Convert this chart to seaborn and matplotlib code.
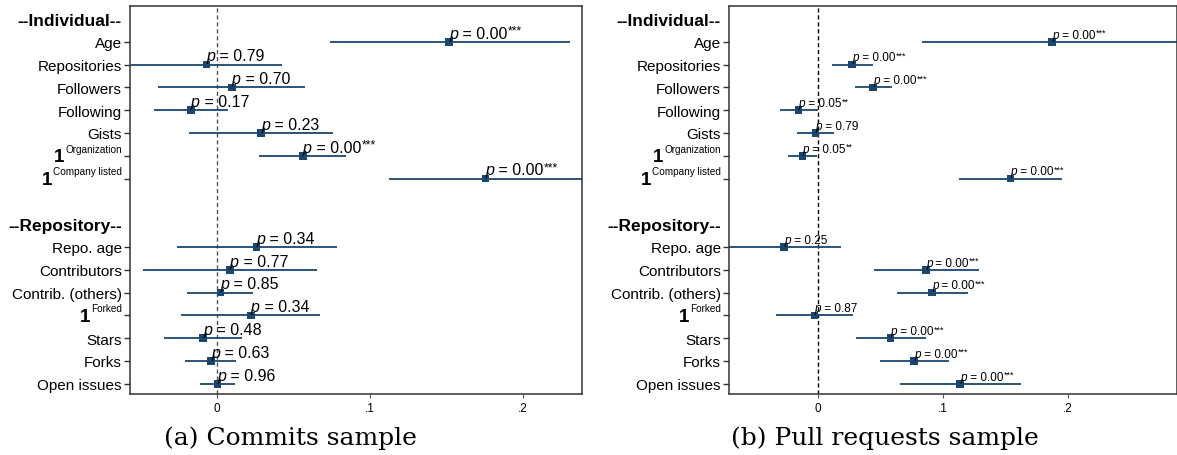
import pandas as pd
import matplotlib.pyplot as plt
import seaborn as sns

# rows of the coefficient plot (top to bottom), headers take their own rows
variables = ["Age", "Repositories", "Followers", "Following", "Gists",
             "Organization", "Company listed",
             "Repo. age", "Contributors", "Contrib. (others)", "Forked",
             "Stars", "Forks", "Open issues"]
positions = [1, 2, 3, 4, 5, 6, 7, 10, 11, 12, 13, 14, 15, 16]
headers = {0: "--Individual--", 9: "--Repository--"}
indicators = ["Organization", "Company listed", "Forked"]  # drawn as 1^{name}

# (a) commits sample
commits_coef = [0.1517, -0.0069, 0.0096, -0.0172, 0.0287, 0.0561, 0.1755,
                0.0257, 0.0083, 0.0022, 0.0221, -0.0091, -0.0039, 0.0002]
commits_lo = [0.0738, -0.0564, -0.0387, -0.0412, -0.0181, 0.0277, 0.1127,
              -0.0265, -0.0485, -0.0194, -0.0235, -0.0348, -0.0208, -0.0113]
commits_hi = [0.2306, 0.0426, 0.0578, 0.0071, 0.0755, 0.0843, 0.2383,
              0.0782, 0.0654, 0.0233, 0.0676, 0.0164, 0.0127, 0.0120]
commits_p = ["0.00***", "0.79", "0.70", "0.17", "0.23", "0.00***", "0.00***",
             "0.34", "0.77", "0.85", "0.34", "0.48", "0.63", "0.96"]

# (b) pull requests sample
pulls_coef = [0.1874, 0.0274, 0.0442, -0.0156, -0.0021, -0.0123, 0.1540,
              -0.0271, 0.0863, 0.0911, -0.0027, 0.0580, 0.0770, 0.1137]
pulls_lo = [0.0833, 0.0111, 0.0295, -0.0301, -0.0168, -0.0238, 0.1131,
            -0.0728, 0.0445, 0.0632, -0.0337, 0.0304, 0.0499, 0.0653]
pulls_hi = [0.2915, 0.0442, 0.0592, -0.0003, 0.0126, -0.0006, 0.1955,
            0.0186, 0.1284, 0.1197, 0.0283, 0.0863, 0.1044, 0.1624]
pulls_p = ["0.00***", "0.00***", "0.00***", "0.05**", "0.79", "0.05**", "0.00***",
           "0.25", "0.00***", "0.00***", "0.87", "0.00***", "0.00***", "0.00***"]

xticks = [0, 0.1, 0.2]
xtick_labels = ["0", ".1", ".2"]

sns.set_theme(style="ticks")
plt.rcParams["font.family"] = ["Liberation Sans", "DejaVu Sans"]
for k in ["text.color", "axes.labelcolor", "xtick.color", "ytick.color"]:
    plt.rcParams[k] = "black"

NAVY = "#1a476f"


def coef_panel(ax, coef, lo, hi, pvals, xlim, psize, zero_color):
    df = pd.DataFrame({"var": variables, "pos": positions, "coef": coef,
                       "lo": lo, "hi": hi, "p": pvals})
    ax.axvline(0, color=zero_color, ls=(0, (3, 2)), lw=1, zorder=1)
    ax.hlines(df["pos"], df["lo"], df["hi"], color=NAVY, lw=1.3, zorder=2)
    sns.scatterplot(data=df, x="coef", y="pos", marker="s", s=30, color=NAVY,
                    edgecolor="none", ax=ax, zorder=3, legend=False)

    # p-value labels: italic p, value, raised stars
    for _, r in df.iterrows():
        stars = r["p"].count("*")
        t1 = ax.annotate("p", (r["coef"], r["pos"]), xytext=(0, 3),
                         textcoords="offset points", ha="left", va="baseline",
                         fontsize=psize, style="italic", zorder=4)
        t2 = ax.annotate(" = " + r["p"].replace("*", ""), xy=(1, 0), xycoords=t1,
                         ha="left", va="bottom", fontsize=psize, zorder=4)
        if stars:
            ax.annotate("*" * stars, xy=(1, 1), xycoords=t2, xytext=(0.3, 0.5),
                        textcoords="offset points", ha="left", va="top",
                        fontsize=psize * 0.75, zorder=4)

    ticks = sorted(list(positions) + list(headers))
    labels = []
    for t in ticks:
        if t in headers:
            labels.append(headers[t])
        else:
            name = variables[positions.index(t)]
            labels.append("" if name in indicators else name)
    ax.set_yticks(ticks)
    ax.set_yticklabels(labels)
    for t, tk, lab in zip(ticks, ax.yaxis.get_major_ticks(), ax.get_yticklabels()):
        if t in headers:
            tk.tick1line.set_visible(False)
            lab.set_fontweight("bold")
            lab.set_fontsize(12.5)
        else:
            lab.set_fontsize(11)

    ytrans = ax.get_yaxis_transform()
    for name, pos in zip(variables, positions):
        if name not in indicators:
            continue
        sup = ax.annotate(name, xy=(0, pos), xycoords=ytrans, xytext=(-6, 1.5),
                          textcoords="offset points", ha="right", va="bottom",
                          fontsize=7.2, annotation_clip=False)
        ax.annotate("1", xy=(0, 0), xycoords=sup, xytext=(-0.5, -5.5),
                    textcoords="offset points", ha="right", va="baseline",
                    fontsize=13.5, fontweight="bold", annotation_clip=False)

    ax.set_ylim(16.45, -0.57)
    ax.set_xlim(*xlim)
    ax.set_xticks(xticks)
    ax.set_xticklabels(xtick_labels, fontsize=8.5)
    ax.tick_params(axis="y", length=4, width=1, pad=2, color="#333333")
    ax.tick_params(axis="x", length=3, width=0.8, pad=3, color="#555555")
    ax.set_xlabel("")
    ax.set_ylabel("")
    for sp in ax.spines.values():
        sp.set_visible(True)
        sp.set_color("#333333")
        sp.set_linewidth(1.1)


fig = plt.figure(figsize=(11.77, 4.56), dpi=100)
ax1 = fig.add_axes([130 / 1177, 61 / 456, 452 / 1177, 388 / 456])
ax2 = fig.add_axes([729 / 1177, 61 / 456, 448 / 1177, 388 / 456])

coef_panel(ax1, commits_coef, commits_lo, commits_hi, commits_p,
           (-0.0569, 0.2386), 11.5, "#555555")
coef_panel(ax2, pulls_coef, pulls_lo, pulls_hi, pulls_p,
           (-0.0712, 0.2872), 8.5, "black")

fig.text(0.247, 0.04, "(a) Commits sample", ha="center", va="center",
         fontsize=18, family="DejaVu Serif")
fig.text(0.752, 0.04, "(b) Pull requests sample", ha="center", va="center",
         fontsize=18, family="DejaVu Serif")

fig.savefig("out.png", dpi=100)
plt.close(fig)
